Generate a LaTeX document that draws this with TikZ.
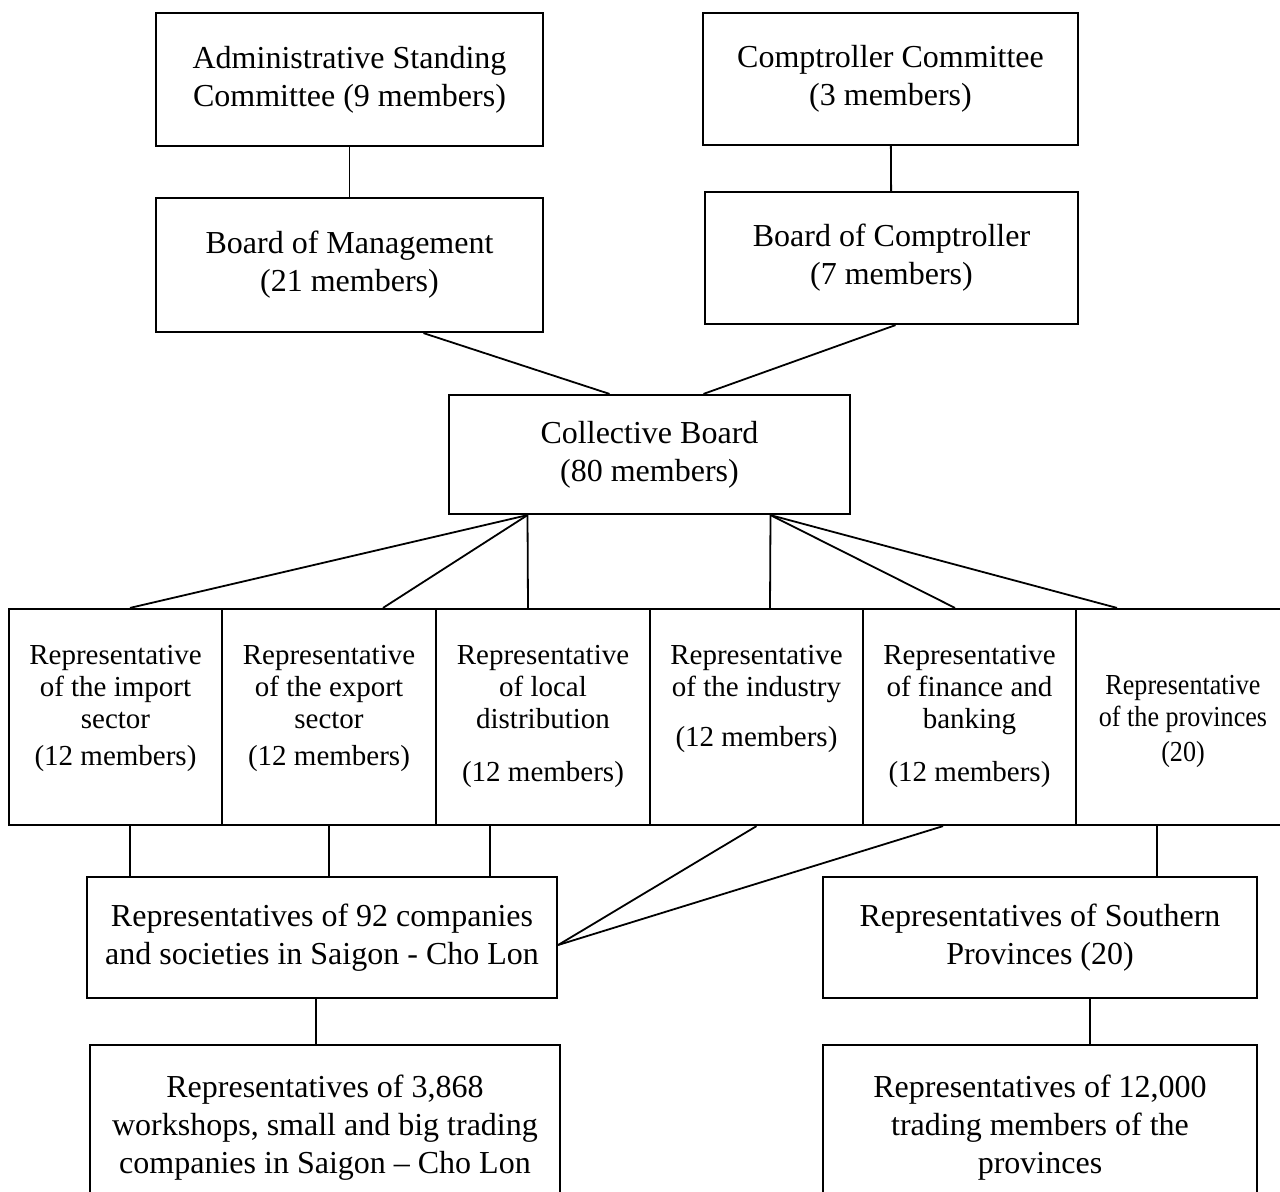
\documentclass[tikz,border=0pt]{standalone}
\usepackage{fontspec}
\setmainfont{Liberation Serif}
\newfontfamily\narrowserif[FakeStretch=0.9]{Liberation Serif}
\usetikzlibrary{positioning}

\begin{document}
\begin{tikzpicture}[x=0.5pt,y=-0.5pt,
  box/.style={draw,line width=1.1pt,align=center,inner sep=0pt,
              font=\fontsize{16}{19}\selectfont},
  rowbox/.style={draw,line width=1.1pt,inner sep=0pt,
                 minimum width=106.75pt,minimum height=108pt},
  rowtext/.style={align=center,inner sep=0pt,anchor=base,
                  font=\fontsize{14.5}{16}\selectfont},
  conn/.style={line width=0.9pt}]

  \clip (0,0) rectangle (1280,1191);

  % committees and boards
  \node (adm) [box,minimum width=193.5pt,minimum height=66.5pt]
        at (349.5,79.5) {Administrative Standing\\ Committee (9 members)};
  \node (ctc) [box,minimum width=187.5pt,minimum height=66pt]
        at (890.5,79) {Comptroller Committee\\ (3 members)};
  \node (bom) [box,minimum width=193.5pt,minimum height=67pt]
        at (349.5,265) {Board of Management\\ (21 members)};
  \node (boc) [box,minimum width=186.5pt,minimum height=66pt]
        at (891.5,258) {Board of Comptroller\\ (7 members)};
  \node (col) [box,minimum width=200.5pt,minimum height=59.5pt]
        at (649.5,454.5) {Collective Board\\ (80 members)};

  \draw [conn] (adm) -- (bom);
  \draw [conn] (ctc) -- (boc);
  \draw [conn] ([xshift=37pt]bom.south) -- ([xshift=-20pt]col.north);
  \draw [conn] ([xshift=2pt]boc.south) -- ([xshift=27pt]col.north);

  % representatives
  \node (r1) [rowbox] at (115.5,717) {};
  \node (r2) [rowbox] at (329,717) {};
  \node (r3) [rowbox] at (543,717) {};
  \node (r4) [rowbox] at (756.5,717) {};
  \node (r5) [rowbox] at (969.5,717) {};
  \node (r6) [rowbox] at (1183,717) {};

  \node (t1) [rowtext] at ([yshift=-79pt]r1.north)
        {Representative\\ of the import\\ sector\\[2.5pt] (12 members)};
  \node (t2) [rowtext] at ([yshift=-79pt]r2.north)
        {Representative\\ of the export\\ sector\\[2.5pt] (12 members)};
  \node (t3) [rowtext] at ([yshift=-87pt]r3.north)
        {Representative\\ of local\\ distribution\\[10.5pt] (12 members)};
  \node (t4) [rowtext] at ([yshift=-69.5pt]r4.north)
        {Representative\\ of the industry\\[9pt] (12 members)};
  \node (t5) [rowtext] at ([yshift=-87pt]r5.north)
        {Representative\\ of finance and\\ banking\\[10.5pt] (12 members)};
  \node (t6) [rowtext,font=\narrowserif\fontsize{14.5}{16}\selectfont]
        at ([yshift=-77pt]r6.north)
        {Representative\\ of the provinces\\[1.5pt] (20)};

  \coordinate (cl) at ([xshift=-61pt]col.south);
  \coordinate (cr) at ([xshift=60.5pt]col.south);
  \draw [conn] (cl) -- ([xshift=7.25pt]r1.north);
  \draw [conn] (cl) -- ([xshift=27pt]r2.north);
  \draw [conn] (cl) -- ([xshift=-7.5pt]r3.north);
  \draw [conn] (cr) -- ([xshift=6.75pt]r4.north);
  \draw [conn] (cr) -- ([xshift=-7.25pt]r5.north);
  \draw [conn] (cr) -- ([xshift=-33pt]r6.north);

  % companies and provinces
  \node (cos) [box,minimum width=235pt,minimum height=60.5pt]
        at (322,937.5) {Representatives of 92 companies\\
                        and societies in Saigon - Cho Lon};
  \node (sou) [box,minimum width=217pt,minimum height=60.5pt]
        at (1040,937.5) {Representatives of Southern\\ Provinces (20)};
  \node (ws) [box,minimum width=235pt,minimum height=82.5pt]
        at (325,1127.5) {Representatives of 3,868\\
                         workshops, small and big trading\\
                         companies in Saigon -- Cho Lon};
  \node (tm) [box,minimum width=217pt,minimum height=82.5pt]
        at (1040,1127.5) {Representatives of 12,000\\
                          trading members of the\\ provinces};

  \coordinate (d1) at ([xshift=7.25pt]r1.south);
  \coordinate (d2) at (r2.south);
  \coordinate (d3) at ([xshift=-26.5pt]r3.south);
  \coordinate (d6) at ([xshift=-13pt]r6.south);
  \coordinate (ce) at ([yshift=-3.75pt]cos.east);
  \draw [conn] (d1) -- (d1 |- cos.north);
  \draw [conn] (d2) -- (d2 |- cos.north);
  \draw [conn] (d3) -- (d3 |- cos.north);
  \draw [conn] (r4.south) -- (ce);
  \draw [conn] ([xshift=-13.25pt]r5.south) -- (ce);
  \draw [conn] (d6) -- (d6 |- sou.north);

  \coordinate (e1) at ([xshift=-3pt]cos.south);
  \coordinate (e2) at ([xshift=25pt]sou.south);
  \draw [conn] (e1) -- (e1 |- ws.north);
  \draw [conn] (e2) -- (e2 |- tm.north);

\end{tikzpicture}
\end{document}
